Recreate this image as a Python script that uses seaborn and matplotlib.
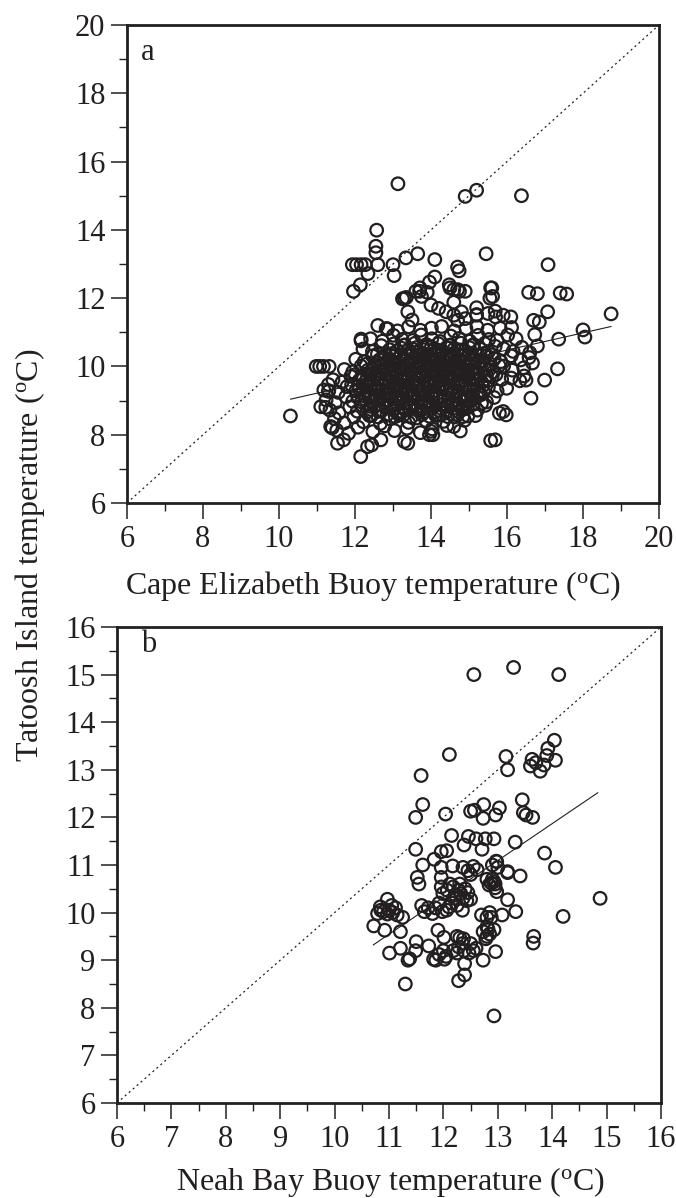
import matplotlib
matplotlib.use("Agg")
import matplotlib.pyplot as plt
from matplotlib.ticker import MultipleLocator
import pandas as pd
import seaborn as sns

# ---------------- data ----------------
# Panel a: Cape Elizabeth buoy (x) vs Tatoosh Island (y)
a_outliers = [
    (13.13, 15.35), (14.90, 14.98), (15.20, 15.16), (16.38, 15.00),
    (12.57, 13.99), (12.55, 13.52), (12.55, 13.33), (13.00, 12.98), (12.60, 12.98),
    (11.93, 12.98), (12.04, 12.98), (12.16, 12.98), (12.27, 12.98),
    (12.34, 12.72), (12.14, 12.39), (11.96, 12.20),
    (13.34, 13.18), (13.65, 13.30), (14.10, 13.13), (14.70, 12.91), (13.03, 12.66), (14.10, 12.62),
    (15.45, 13.30), (17.08, 12.98), (14.48, 12.39), (14.60, 12.25), (14.70, 12.25), (13.71, 12.30),
    (13.90, 12.17), (15.57, 12.30), (16.57, 12.17), (16.80, 12.13), (17.40, 12.15), (17.57, 12.12),
    (18.74, 11.54), (18.00, 11.07), (18.05, 10.86), (17.36, 10.80), (17.33, 9.93), (16.99, 9.60),
    (16.63, 9.07), (15.90, 8.68), (15.98, 8.58), (15.69, 7.85),
    (17.07, 11.60), (16.70, 11.35), (16.85, 11.30), (15.60, 12.30), (15.62, 12.05), (15.55, 12.00),
    (15.20, 11.72), (15.20, 11.52), (14.80, 11.60), (14.90, 11.40), (14.60, 11.50), (14.70, 11.35),
    (14.60, 11.88), (14.50, 12.30), (14.75, 12.20), (14.90, 12.20), (14.74, 12.80), (13.96, 12.47),
    (13.60, 12.20), (13.75, 12.05), (13.70, 12.20), (13.30, 12.00), (13.35, 12.02), (13.25, 11.98),
    (14.00, 11.80), (14.20, 11.70), (14.40, 11.60), (13.39, 11.60), (13.50, 11.36), (12.60, 11.20),
    (12.86, 11.10), (12.16, 10.80), (12.16, 10.75),
    (15.20, 11.50), (15.50, 11.55), (15.70, 11.45), (15.90, 11.50), (16.10, 11.45), (15.69, 11.62),
    (16.67, 10.10), (16.73, 10.93), (16.50, 9.60), (16.45, 9.72), (16.60, 10.40), (16.80, 10.60),
    (10.98, 10.00), (11.07, 10.00), (11.17, 10.00), (11.32, 10.00),
    (10.30, 8.55), (11.23, 8.80), (11.30, 9.27), (11.30, 9.47), (11.40, 8.20), (11.54, 7.75),
    (11.70, 7.85), (12.15, 7.36), (12.33, 7.65), (12.44, 7.70), (13.30, 7.80), (13.39, 7.75),
    (13.96, 8.00), (15.57, 7.83), (15.80, 8.63), (11.10, 8.82), (11.36, 8.24), (11.18, 9.31),
    (12.68, 7.85), (14.00, 8.10), (14.05, 8.00), (14.60, 8.24), (14.84, 8.53), (15.33, 8.92),
]
a_cloud = [
    (11.52, 8.13), (11.83, 8.04), (12.08, 8.22), (12.47, 8.09), (12.78, 8.26), (13.04, 8.12),
    (13.37, 8.19), (13.72, 8.06), (14.03, 8.17), (14.42, 8.27), (14.77, 8.11),
    (11.46, 8.47), (11.71, 8.34), (11.97, 8.52), (12.22, 8.38), (12.43, 8.56), (12.67, 8.33),
    (12.91, 8.47), (13.16, 8.58), (13.41, 8.36), (13.62, 8.49), (13.87, 8.41), (14.12, 8.57),
    (14.33, 8.39), (14.62, 8.52), (14.88, 8.42), (15.17, 8.56),
    (11.34, 8.72), (11.58, 8.64), (11.86, 8.81), (12.06, 8.69), (12.31, 8.66), (12.52, 8.83),
    (12.71, 8.71), (12.93, 8.86), (13.12, 8.64), (13.32, 8.77), (13.49, 8.87), (13.72, 8.69),
    (13.91, 8.82), (14.11, 8.66), (14.29, 8.76), (14.52, 8.88), (14.71, 8.68), (14.96, 8.81),
    (15.22, 8.72), (15.43, 8.86),
    (11.24, 9.02), (11.48, 8.94), (11.76, 9.11), (11.94, 8.98), (12.17, 8.96), (12.36, 9.12),
    (12.54, 9.01), (12.77, 8.93), (12.96, 9.09), (13.14, 9.03), (13.36, 8.94), (13.57, 9.12),
    (13.74, 8.99), (13.96, 8.95), (14.16, 9.11), (14.34, 9.02), (14.56, 8.93), (14.77, 9.08),
    (14.94, 9.01), (15.21, 9.12), (15.46, 8.96), (15.66, 9.09),
    (11.31, 9.29), (11.56, 9.24), (11.79, 9.41), (12.02, 9.28), (12.21, 9.23), (12.39, 9.42),
    (12.61, 9.31), (12.82, 9.24), (13.01, 9.39), (13.19, 9.32), (13.42, 9.26), (13.61, 9.41),
    (13.79, 9.28), (14.01, 9.23), (14.22, 9.38), (14.41, 9.31), (14.59, 9.24), (14.81, 9.42),
    (15.02, 9.29), (15.26, 9.24), (15.51, 9.39), (15.74, 9.28), (15.99, 9.36),
    (11.42, 9.61), (11.66, 9.54), (11.89, 9.71), (12.11, 9.59), (12.29, 9.56), (12.51, 9.72),
    (12.69, 9.61), (12.91, 9.53), (13.09, 9.69), (13.31, 9.62), (13.52, 9.54), (13.69, 9.71),
    (13.91, 9.58), (14.09, 9.56), (14.31, 9.69), (14.49, 9.61), (14.71, 9.54), (14.89, 9.72),
    (15.11, 9.61), (15.34, 9.53), (15.61, 9.69), (15.86, 9.62), (16.11, 9.66), (16.34, 9.58),
    (11.72, 9.91), (11.94, 9.84), (12.16, 10.01), (12.34, 9.89), (12.56, 9.86), (12.74, 10.02),
    (12.96, 9.91), (13.14, 9.83), (13.36, 9.99), (13.54, 9.92), (13.76, 9.84), (13.94, 10.01),
    (14.16, 9.89), (14.34, 9.86), (14.56, 10.02), (14.74, 9.91), (14.96, 9.84), (15.14, 9.99),
    (15.41, 9.92), (15.64, 9.84), (15.91, 10.01), (16.14, 9.89), (16.44, 9.96),
    (12.02, 10.21), (12.24, 10.14), (12.46, 10.31), (12.64, 10.19), (12.86, 10.16), (13.04, 10.32),
    (13.26, 10.21), (13.44, 10.13), (13.66, 10.29), (13.84, 10.22), (14.06, 10.14), (14.24, 10.31),
    (14.46, 10.19), (14.64, 10.16), (14.86, 10.32), (15.04, 10.21), (15.26, 10.13), (15.44, 10.29),
    (15.66, 10.22), (15.84, 10.14), (16.11, 10.31), (16.36, 10.19), (16.58, 10.26),
    (12.21, 10.51), (12.46, 10.44), (12.69, 10.61), (12.91, 10.49), (13.11, 10.46), (13.29, 10.62),
    (13.51, 10.51), (13.69, 10.43), (13.91, 10.59), (14.09, 10.52), (14.31, 10.44), (14.49, 10.61),
    (14.71, 10.49), (14.89, 10.46), (15.11, 10.62), (15.29, 10.51), (15.51, 10.43), (15.69, 10.59),
    (15.91, 10.52), (16.16, 10.44), (16.39, 10.56),
    (12.41, 10.81), (12.72, 10.74), (13.01, 10.91), (13.24, 10.79), (13.52, 10.76), (13.74, 10.92),
    (14.02, 10.81), (14.24, 10.73), (14.52, 10.89), (14.74, 10.82), (15.02, 10.74), (15.24, 10.91),
    (15.52, 10.79), (15.74, 10.76), (16.02, 10.92), (16.24, 10.81),
    (12.82, 11.11), (13.12, 11.04), (13.41, 11.16), (13.72, 11.06), (14.01, 11.12), (14.28, 11.17),
    (14.61, 11.04), (14.92, 11.11), (15.21, 11.16), (15.49, 11.06), (15.82, 11.12), (16.12, 11.14),
]
a_core = [
    (12.38, 8.56), (12.61, 8.52), (12.84, 8.58), (13.06, 8.53), (13.27, 8.57), (13.48, 8.51),
    (13.76, 8.59), (13.96, 8.54), (14.21, 8.57), (14.44, 8.53), (14.69, 8.58), (14.97, 8.55),
    (12.19, 8.86), (12.41, 8.83), (12.62, 8.88), (12.81, 8.84), (13.04, 8.87), (13.26, 8.82),
    (13.46, 8.89), (13.66, 8.84), (13.84, 8.87), (14.06, 8.83), (14.26, 8.88), (14.44, 8.84),
    (14.66, 8.87), (14.86, 8.83), (15.09, 8.88),
    (12.06, 9.16), (12.26, 9.13), (12.44, 9.18), (12.66, 9.14), (12.86, 9.17), (13.06, 9.13),
    (13.24, 9.18), (13.46, 9.14), (13.66, 9.17), (13.84, 9.13), (14.06, 9.18), (14.24, 9.14),
    (14.46, 9.17), (14.64, 9.13), (14.86, 9.18), (15.06, 9.14), (15.31, 9.17),
    (11.91, 9.46), (12.09, 9.43), (12.31, 9.48), (12.49, 9.44), (12.71, 9.47), (12.89, 9.43),
    (13.11, 9.48), (13.29, 9.44), (13.51, 9.47), (13.69, 9.43), (13.91, 9.48), (14.09, 9.44),
    (14.31, 9.47), (14.49, 9.43), (14.71, 9.48), (14.89, 9.44), (15.11, 9.47), (15.36, 9.43),
    (12.01, 9.76), (12.19, 9.73), (12.41, 9.78), (12.59, 9.74), (12.81, 9.77), (12.99, 9.73),
    (13.21, 9.78), (13.39, 9.74), (13.61, 9.77), (13.79, 9.73), (14.01, 9.78), (14.19, 9.74),
    (14.41, 9.77), (14.59, 9.73), (14.81, 9.78), (14.99, 9.74), (15.21, 9.77), (15.46, 9.73),
    (15.71, 9.76),
    (12.29, 10.06), (12.51, 10.03), (12.69, 10.08), (12.91, 10.04), (13.09, 10.07), (13.31, 10.03),
    (13.49, 10.08), (13.71, 10.04), (13.89, 10.07), (14.11, 10.03), (14.29, 10.08), (14.51, 10.04),
    (14.69, 10.07), (14.91, 10.03), (15.09, 10.08), (15.31, 10.04), (15.56, 10.07), (15.79, 10.03),
    (12.59, 10.36), (12.81, 10.33), (12.99, 10.38), (13.21, 10.34), (13.39, 10.37), (13.61, 10.33),
    (13.79, 10.38), (14.01, 10.34), (14.19, 10.37), (14.41, 10.33), (14.59, 10.38), (14.81, 10.34),
    (14.99, 10.37), (15.21, 10.33), (15.39, 10.38), (15.61, 10.34),
    (13.02, 10.66), (13.31, 10.63), (13.58, 10.68), (13.88, 10.64), (14.19, 10.67), (14.52, 10.63),
    (14.79, 10.68), (15.12, 10.64), (15.41, 10.67),
]
a_dense = [
    (12.42, 8.74), (12.62, 8.69), (12.82, 8.78), (13.02, 8.72), (13.22, 8.68), (13.42, 8.79),
    (13.62, 8.73), (13.82, 8.67), (14.02, 8.77), (14.22, 8.71), (14.42, 8.68), (14.62, 8.78),
    (14.82, 8.73),
    (12.27, 9.04), (12.46, 8.97), (12.66, 9.06), (12.86, 8.99), (13.06, 9.05), (13.26, 8.98),
    (13.46, 9.06), (13.66, 9.02), (13.86, 8.97), (14.06, 9.05), (14.26, 8.99), (14.46, 9.06),
    (14.66, 9.01), (14.86, 8.97), (15.08, 9.05),
    (12.11, 9.34), (12.31, 9.27), (12.51, 9.36), (12.71, 9.29), (12.91, 9.35), (13.11, 9.28),
    (13.31, 9.36), (13.51, 9.32), (13.71, 9.27), (13.91, 9.35), (14.11, 9.29), (14.31, 9.36),
    (14.51, 9.31), (14.71, 9.27), (14.91, 9.35), (15.13, 9.31), (15.38, 9.28),
    (12.21, 9.64), (12.41, 9.57), (12.61, 9.66), (12.81, 9.59), (13.01, 9.65), (13.21, 9.58),
    (13.41, 9.66), (13.61, 9.62), (13.81, 9.57), (14.01, 9.65), (14.21, 9.59), (14.41, 9.66),
    (14.61, 9.61), (14.81, 9.57), (15.01, 9.65), (15.23, 9.61), (15.48, 9.58),
    (12.46, 9.94), (12.66, 9.87), (12.86, 9.96), (13.06, 9.89), (13.26, 9.95), (13.46, 9.88),
    (13.66, 9.96), (13.86, 9.92), (14.06, 9.87), (14.26, 9.95), (14.46, 9.89), (14.66, 9.96),
    (14.86, 9.91), (15.06, 9.87), (15.28, 9.95), (15.53, 9.91),
    (12.76, 10.24), (12.96, 10.17), (13.16, 10.26), (13.36, 10.19), (13.56, 10.25), (13.76, 10.18),
    (13.96, 10.26), (14.16, 10.22), (14.36, 10.17), (14.56, 10.25), (14.76, 10.19), (14.96, 10.26),
    (15.16, 10.21), (15.36, 10.17),
    (13.21, 10.54), (13.41, 10.48), (13.61, 10.55), (13.81, 10.49), (14.01, 10.56), (14.21, 10.47),
    (14.41, 10.55), (14.61, 10.51), (14.81, 10.48), (15.01, 10.55),
]
a_fit_x = [10.30, 18.74]
a_fit_y = [9.04, 11.17]

# Panel b: Neah Bay buoy (x) vs Tatoosh Island (y)
b_upper = [
    (12.56, 15.00), (13.29, 15.15), (14.12, 15.00),
    (12.11, 13.32), (11.59, 12.88), (13.15, 13.28), (13.18, 13.00),
    (14.04, 13.62), (13.92, 13.45), (13.90, 13.30), (14.06, 13.20), (13.63, 13.22), (13.70, 13.15),
    (13.60, 13.08), (13.78, 12.97), (13.85, 13.10),
    (11.62, 12.27), (11.49, 12.00), (12.04, 12.07), (12.50, 12.13), (12.57, 12.15), (12.74, 12.27),
    (12.73, 11.98), (12.96, 12.05), (13.03, 12.20), (13.45, 12.37), (13.47, 12.10), (13.52, 12.05),
    (13.64, 12.00),
    (12.15, 11.62), (12.46, 11.60), (12.60, 11.55), (12.77, 11.55), (12.93, 11.55), (12.38, 11.42),
    (12.71, 11.33), (13.32, 11.48), (11.49, 11.33), (13.86, 11.25), (14.06, 10.95),
]
b_middle = [
    (11.83, 11.12), (11.96, 11.28), (12.06, 11.30), (11.62, 11.00), (11.52, 10.74), (11.55, 10.60),
    (11.96, 10.95), (11.96, 10.74), (12.17, 10.98), (12.36, 10.95), (12.45, 10.88), (12.55, 10.97),
    (12.62, 10.90), (12.50, 10.80), (12.90, 11.00), (12.97, 11.08), (13.00, 10.95), (13.18, 10.84),
    (13.41, 10.77), (12.80, 10.70), (12.88, 10.62), (12.95, 10.52), (12.84, 10.58),
    (10.84, 10.12), (10.97, 10.28), (10.90, 10.02), (10.79, 9.98), (11.00, 10.05), (11.07, 10.00),
    (10.97, 9.97), (11.05, 10.15), (11.15, 9.95), (11.25, 9.90), (11.12, 10.10), (10.85, 10.05),
    (11.60, 10.15), (11.65, 10.02), (11.72, 10.10), (11.85, 10.10), (11.80, 9.98), (11.92, 10.20),
    (11.98, 10.02), (12.06, 10.05),
    (11.96, 10.54), (11.99, 10.40), (12.07, 10.47), (12.12, 10.60), (12.18, 10.54), (12.22, 10.37),
    (12.28, 10.47), (12.32, 10.40), (12.36, 10.30), (12.43, 10.25), (12.50, 10.28), (12.15, 10.20),
    (12.25, 10.15), (12.30, 10.60), (12.40, 10.50), (12.20, 10.30), (12.45, 10.42), (12.35, 10.05),
    (12.10, 10.12),
    (12.70, 9.95), (12.80, 9.90), (12.85, 10.00), (12.88, 9.90), (13.08, 9.95), (13.33, 10.02),
    (13.18, 10.27), (12.98, 10.44), (13.18, 10.86), (12.98, 11.07), (12.90, 10.70), (12.93, 10.65),
    (12.95, 10.60),
]
b_lower = [
    (14.88, 10.30), (14.20, 9.92), (13.66, 9.50), (13.65, 9.36), (12.93, 7.83), (11.30, 8.50),
    (12.28, 8.57), (12.39, 8.69), (12.39, 8.93), (12.96, 9.18), (12.73, 9.00),
    (11.01, 9.15), (11.21, 9.25), (11.35, 9.00), (11.38, 9.03), (11.49, 9.20), (11.50, 9.39),
    (11.73, 9.30), (11.82, 9.02), (11.86, 9.00), (11.92, 9.12), (12.02, 9.02), (12.05, 9.08),
    (12.00, 9.20), (12.18, 9.20), (12.25, 9.15), (12.28, 9.28), (12.35, 9.35), (12.38, 9.20),
    (12.47, 9.15), (12.50, 9.35), (12.55, 9.20), (12.60, 9.25),
    (12.25, 9.50), (12.30, 9.47), (12.37, 9.45), (11.90, 9.63), (12.01, 9.48), (10.72, 9.72),
    (10.92, 9.63), (11.21, 9.60), (12.73, 9.60), (12.80, 9.50), (12.78, 9.45), (12.93, 9.64),
    (12.82, 9.65), (12.85, 9.55), (12.80, 9.70),
]
b_fit_x = [10.71, 14.84]
b_fit_y = [9.32, 12.52]

a_label_x = "Cape Elizabeth Buoy temperature ($^{\\mathrm{o}}$C)"
b_label_x = "Neah Bay Buoy temperature ($^{\\mathrm{o}}$C)"
label_y = "Tatoosh Island temperature ($^{\\mathrm{o}}$C)"

# ---------------- styling ----------------
sns.set_theme(style="white")
INK = "#231f20"
plt.rcParams.update({
    "font.family": ["Liberation Serif", "DejaVu Serif"],
    "mathtext.fontset": "custom",
    "mathtext.rm": "Liberation Serif",
    "mathtext.it": "Liberation Serif:italic",
    "mathtext.bf": "Liberation Serif:bold",
    "text.color": INK,
})

W, H = 676, 1198
fig = plt.figure(figsize=(W / 100, H / 100), dpi=100)
fig.patch.set_facecolor("white")


def box(l, t, r, b):
    return [l / W, 1 - b / H, (r - l) / W, (b - t) / H]


ax_a = fig.add_axes(box(127, 25, 659, 503))
ax_b = fig.add_axes(box(117, 627, 661, 1103))


def to_df(*groups):
    pts = [p for g in groups for p in g]
    return pd.DataFrame(pts, columns=["buoy", "tatoosh"])


def style(ax, lim, major, minor):
    ax.set_xlim(lim)
    ax.set_ylim(lim)
    ax.set_facecolor("white")
    for axis in (ax.xaxis, ax.yaxis):
        axis.set_major_locator(MultipleLocator(major))
        axis.set_minor_locator(MultipleLocator(minor))
    ax.tick_params(which="both", direction="out", left=True, bottom=True,
                   top=False, right=False, colors=INK, labelcolor=INK,
                   labelsize=22)
    ax.tick_params(which="major", length=11.5, width=1.1, pad=4)
    ax.tick_params(which="minor", length=5.5, width=1.0)
    for sp in ax.spines.values():
        sp.set_visible(True)
        sp.set_linewidth(2.0)
        sp.set_color(INK)
    ax.set_xlabel("")
    ax.set_ylabel("")


def draw(ax, df, fx, fy, lim):
    ax.plot(lim, lim, linestyle=(0, (1.6, 2.6)), color=INK, linewidth=0.9, zorder=1)
    sns.lineplot(x=fx, y=fy, ax=ax, color=INK, linewidth=0.8, zorder=2)
    sns.scatterplot(data=df, x="buoy", y="tatoosh", ax=ax, s=82,
                    facecolor="none", edgecolor=INK, linewidth=1.6,
                    legend=False, zorder=3)


df_a = to_df(a_outliers, a_cloud, a_core, a_dense)
df_b = to_df(b_upper, b_middle, b_lower)

draw(ax_a, df_a, a_fit_x, a_fit_y, [6, 20])
style(ax_a, (6, 20), 2, 1)
draw(ax_b, df_b, b_fit_x, b_fit_y, [6, 16])
style(ax_b, (6, 16), 1, 0.5)

ax_a.text(0.026, 0.927, "a", transform=ax_a.transAxes, fontsize=22,
          ha="left", va="baseline", color=INK)
ax_b.text(0.044, 0.947, "b", transform=ax_b.transAxes, fontsize=22,
          ha="left", va="baseline", color=INK)

fig.text(373 / W, 1 - 594 / H, a_label_x, ha="center", va="baseline",
         fontsize=23, color=INK)
fig.text(390 / W, 1 - 1190 / H, b_label_x, ha="center", va="baseline",
         fontsize=23, color=INK)
fig.text(30 / W, 1 - 555 / H, label_y, rotation=90, ha="center", va="center",
         fontsize=23, color=INK)

fig.savefig("out.png", dpi=100, facecolor="white")
